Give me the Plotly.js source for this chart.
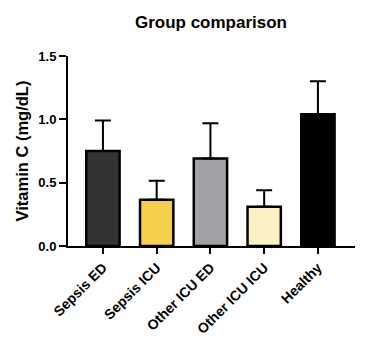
<!DOCTYPE html>
<html>
<head>
<meta charset="utf-8">
<script src="https://cdn.plot.ly/plotly-3.0.1.min.js"></script>
<style>html,body{margin:0;padding:0;background:#fff;}#chart{width:365px;height:351px;}</style>
</head>
<body>
<div id="chart"></div>
<script>
const categories = ["Sepsis ED", "Sepsis ICU", "Other ICU ED", "Other ICU ICU", "Healthy"];
const means = [0.75, 0.365, 0.69, 0.31, 1.04];
const sdUpper = [0.24, 0.15, 0.28, 0.13, 0.26];
const barColors = ["#333333", "#F4D04C", "#A2A1A6", "#F9F0C6", "#000000"];
const yTicks = [0, 0.5, 1.0, 1.5];

const FONT = "Liberation Sans, Arial, sans-serif";

const trace = {
  type: "bar",
  x: categories,
  y: means,
  width: 0.62,
  marker: {
    color: barColors,
    line: {color: "#000000", width: 2.5}
  },
  error_y: {
    type: "data",
    symmetric: false,
    array: sdUpper,
    arrayminus: categories.map(() => 0),
    color: "#000000",
    thickness: 2,
    width: 8
  },
  hoverinfo: "none"
};

const layout = {
  width: 365,
  height: 351,
  margin: {l: 68, r: 10, t: 56, b: 105},
  paper_bgcolor: "#ffffff",
  plot_bgcolor: "#ffffff",
  showlegend: false,
  font: {family: FONT, color: "#000000"},
  title: {
    text: "<b>Group comparison</b>",
    font: {size: 17, family: FONT, color: "#000"},
    x: 0.578, xanchor: "center", y: 0.938, yanchor: "middle"
  },
  xaxis: {
    type: "category",
    range: [-0.65, 4.69],
    showline: true, linecolor: "#000", linewidth: 2,
    ticks: "outside", ticklen: 6, tickwidth: 2, tickcolor: "#000",
    tickangle: -45,
    tickfont: {size: 14, family: FONT, color: "#000", weight: "bold"},
    showgrid: false, zeroline: false, fixedrange: true
  },
  yaxis: {
    range: [0, 1.5],
    tickvals: yTicks,
    tickformat: ".1f",
    showline: true, linecolor: "#000", linewidth: 2,
    ticks: "outside", ticklen: 7, tickwidth: 2, tickcolor: "#000",
    tickfont: {size: 13, family: FONT, color: "#000", weight: "bold"},
    showgrid: false, zeroline: false, fixedrange: true,
    title: {text: "<b>Vitamin C (mg/dL)</b>", font: {size: 16.5, family: FONT, color: "#000"}, standoff: 6}
  }
};

Plotly.newPlot("chart", [trace], layout, {displayModeBar: false, staticPlot: true});
</script>
</body>
</html>
